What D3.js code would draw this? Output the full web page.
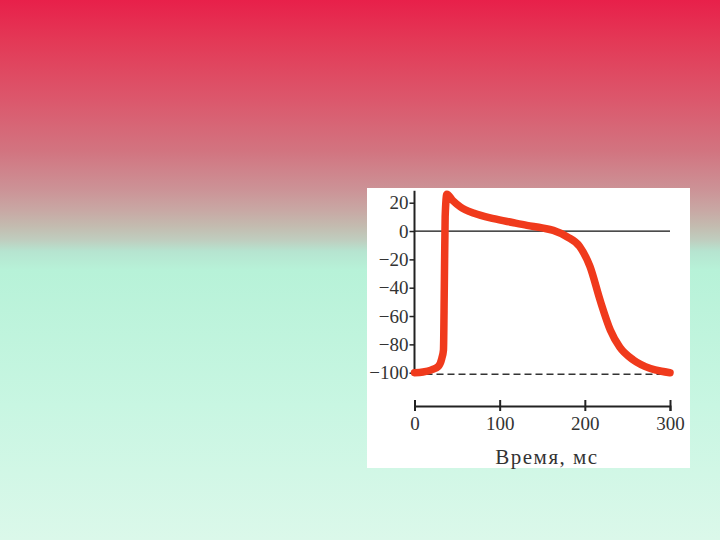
<!DOCTYPE html>
<html><head><meta charset="utf-8">
<script src="https://cdn.jsdelivr.net/npm/d3@7"></script>
<style>html,body{margin:0;padding:0;overflow:hidden}svg{display:block}</style>
</head><body>
<svg id="c" width="720" height="540"></svg>
<script>
// Data (time in ms, membrane potential in mV)
const timeMs = [0, 10, 20, 28, 32, 34, 35, 36, 38, 45, 54, 70, 93, 115, 132, 150, 163, 179, 194, 206, 218, 230, 241, 257, 277, 290, 300];
const potentialMv = [-100, -99.5, -98, -95.5, -90, -84, -40, 10, 26, 21.5, 17, 12.5, 8.7, 6, 4, 2.2, 0.5, -4, -11, -25, -49, -70, -82, -91, -97, -99, -100];
const yTicks = [20, 0, -20, -40, -60, -80, -100];
const yTickLabels = ["20", "0", "\u221220", "\u221240", "\u221260", "\u221280", "\u2212100"];
const xTicks = [0, 100, 200, 300];
const xTitle = "Время, мс";
const restLevel = -100;
const zeroLevel = 0;

const svg = d3.select("#c");
const defs = svg.append("defs");
const g = defs.append("linearGradient").attr("id", "bg").attr("x1", 0).attr("y1", 0).attr("x2", 0).attr("y2", 1);
[[0, "#e8204a"], [0.08, "#e33a57"], [0.18, "#dc566b"], [0.28, "#d27480"], [0.35, "#cc9296"], [0.39, "#c8a8a4"], [0.42, "#c3bcb0"], [0.445, "#bfcebf"], [0.465, "#b6e4d0"], [0.5, "#b7f2d8"], [0.75, "#c8f6e2"], [1, "#dbf8ea"]]
  .forEach(([o, c]) => g.append("stop").attr("offset", o).attr("stop-color", c));
svg.append("rect").attr("width", 720).attr("height", 540).attr("fill", "url(#bg)");

// white panel
svg.append("rect").attr("x", 367).attr("y", 188).attr("width", 323).attr("height", 280).attr("fill", "#ffffff");

const x = d3.scaleLinear().domain([0, 300]).range([414.5, 670]);
const y = d3.scaleLinear().domain([-100, 20]).range([372.7, 202.7]);

const font = "'Liberation Serif', 'DejaVu Serif', serif";

// zero line
svg.append("line").attr("x1", x(0)).attr("x2", x(300)).attr("y1", y(zeroLevel)).attr("y2", y(zeroLevel))
  .attr("stroke", "#111").attr("stroke-width", 1.2);
// dashed rest line
svg.append("line").attr("x1", x(0)).attr("x2", x(300)).attr("y1", y(restLevel) + 1.5).attr("y2", y(restLevel) + 1.5)
  .attr("stroke", "#333").attr("stroke-width", 1.4).attr("stroke-dasharray", "7,4");

// y axis
const yAxis = d3.axisLeft(y).tickValues(yTicks).tickSize(5).tickPadding(1)
  .tickFormat((d, i) => yTickLabels[i]);
const ya = svg.append("g").attr("transform", `translate(${x(0)},0)`).call(yAxis);
ya.select(".domain").attr("d", `M0,${y(27) - 2}V${y(-100) + 3}`).attr("stroke", "#222").attr("stroke-width", 2);
ya.selectAll(".tick line").attr("stroke", "#222").attr("stroke-width", 1.5);
ya.selectAll(".tick text").attr("font-family", font).attr("font-size", 19).attr("fill", "#333");

// x axis (separate, below)
const xAxis = d3.axisBottom(x).tickValues(xTicks).tickSize(5).tickPadding(6).tickFormat(d3.format("d"));
const xa = svg.append("g").attr("transform", "translate(0,406)").call(xAxis);
xa.select(".domain").attr("stroke", "#222").attr("stroke-width", 2);
xa.selectAll(".tick line").attr("stroke", "#222").attr("stroke-width", 2).attr("y1", -6).attr("y2", 5);
xa.selectAll(".tick text").attr("font-family", font).attr("font-size", 19).attr("fill", "#333");

svg.append("text").attr("x", 547).attr("y", 464).attr("text-anchor", "middle")
  .attr("font-family", font).attr("font-size", 21).attr("letter-spacing", 1.5).attr("fill", "#333").text(xTitle);

// action potential curve
const pts = timeMs.map((t, i) => [t, potentialMv[i]]);
const line = d3.line().x(d => x(d[0])).y(d => y(d[1])).curve(d3.curveMonotoneX);
svg.append("path").datum(pts).attr("d", line).attr("fill", "none")
  .attr("stroke", "#f03a1c").attr("stroke-width", 7.5).attr("stroke-linejoin", "round").attr("stroke-linecap", "round");
</script>
</body></html>
